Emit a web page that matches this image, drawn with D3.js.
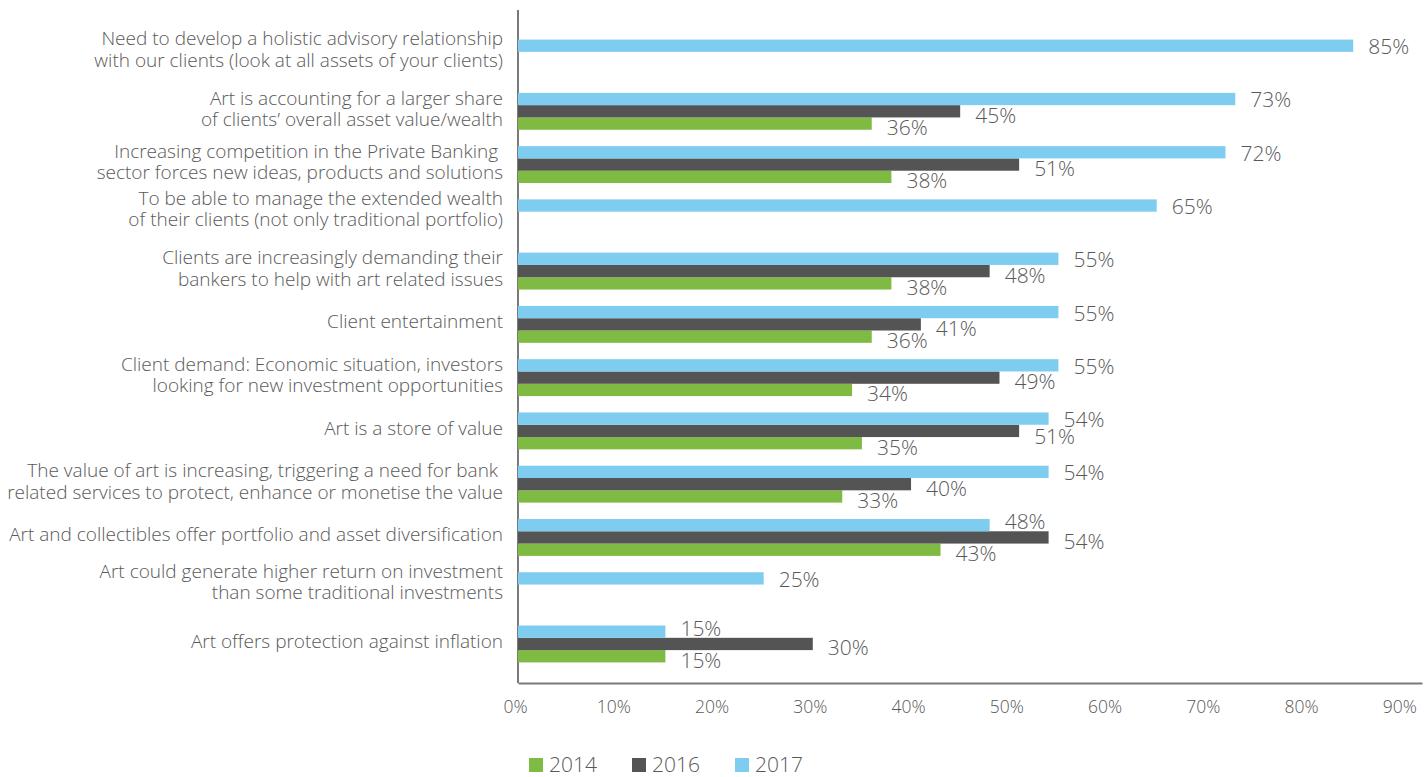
<!DOCTYPE html>
<html>
<head>
<meta charset="utf-8">
<script src="https://cdn.jsdelivr.net/npm/d3@7"></script>
<style>
  html, body { margin: 0; padding: 0; background: #ffffff; }
  svg { display: block; font-family: "Open Sans", "Noto Sans", sans-serif; font-weight: 300; }
</style>
</head>
<body>
<svg id="chart" width="1428" height="777"></svg>
<script>
// Reasons given for offering art-related services (share of respondents)
const categories = [
  "Need to develop a holistic advisory relationship\nwith our clients (look at all assets of your clients)",
  "Art is accounting for a larger share\nof clients\u2019 overall asset value/wealth",
  "Increasing competition in the Private Banking \nsector forces new ideas, products and solutions",
  "To be able to manage the extended wealth\nof their clients (not only traditional portfolio)",
  "Clients are increasingly demanding their\nbankers to help with art related issues",
  "Client entertainment",
  "Client demand: Economic situation, investors\nlooking for new investment opportunities",
  "Art is a store of value",
  "The value of art is increasing, triggering a need for bank \nrelated services to protect, enhance or monetise the value",
  "Art and collectibles offer portfolio and asset diversification",
  "Art could generate higher return on investment\nthan some traditional investments",
  "Art offers protection against inflation"
];

const years = ["2014", "2016", "2017"];
const values2014 = [null, 36, 38, null, 38, 36, 34, 35, 33, 43, null, 15];
const values2016 = [null, 45, 51, null, 48, 41, 49, 51, 40, 54, null, 30];
const values2017 = [85, 73, 72, 65, 55, 55, 55, 54, 54, 48, 25, 15];
const xTickValues = [0, 10, 20, 30, 40, 50, 60, 70, 80, 90];

const seriesColors = { "2014": "#7fba42", "2016": "#545454", "2017": "#7ecdf1" };
const seriesValues = { "2014": values2014, "2016": values2016, "2017": values2017 };
// vertical nudge of each series' value label relative to its bar centre
const labelNudge = { "2014": 4, "2016": 4, "2017": 1 };

const textColor = "#595959";
const axisColor = "#7a7a7a";

const svg = d3.select("#chart");

const x = d3.scaleLinear().domain([0, 92]).range([518, 1422]);
const y = d3.scaleBand().domain(d3.range(categories.length)).range([31.4, 670.6]).paddingInner(0).paddingOuter(0);
// within a group: 2017 on top, then 2016, then 2014
const ySub = d3.scaleBand().domain(["2017", "2016", "2014"]).range([0, y.bandwidth()]).paddingInner(0).paddingOuter(0.665);

// Build the flat list of bars
const bars = [];
categories.forEach((c, i) => {
  years.forEach(yr => {
    const v = seriesValues[yr][i];
    if (v !== null && v !== undefined) {
      bars.push({ cat: i, year: yr, value: v });
    }
  });
});

// Axis lines
svg.append("line")
  .attr("x1", x(0)).attr("x2", x(0))
  .attr("y1", 10).attr("y2", 683)
  .attr("stroke", axisColor).attr("stroke-width", 2);

const xAxis = d3.axisBottom(x)
  .tickValues(xTickValues)
  .tickSize(0)
  .tickPadding(0)
  .tickFormat(d => d + "%");

const gx = svg.append("g")
  .attr("transform", "translate(0,683)")
  .call(xAxis);
gx.select(".domain").attr("stroke", axisColor).attr("stroke-width", 2);
gx.selectAll(".tick text")
  .attr("y", 30)
  .attr("dy", 0)
  .attr("dx", -3)
  .attr("fill", textColor)
  .style("font-size", "17.5px")
  .style("font-family", "'Open Sans', 'Noto Sans', sans-serif")
  .style("font-weight", 300);

// Bars
svg.append("g").selectAll("rect")
  .data(bars)
  .join("rect")
  .attr("x", x(0))
  .attr("y", d => y(d.cat) + ySub(d.year))
  .attr("width", d => x(d.value) - x(0))
  .attr("height", ySub.bandwidth())
  .attr("fill", d => seriesColors[d.year]);

// Value labels: right of the bar end, nudged clear of neighbouring bars
// and of each other within the same group
const capHalf = 7.5;
const labelGap = 15;
const minLabelSpacing = 17;
const labels = svg.append("g").selectAll("text")
  .data(bars)
  .join("text")
  .attr("x", d => x(d.value) + labelGap)
  .attr("fill", textColor)
  .style("font-size", "21px")
  .text(d => d.value + "%");

labels.each(function(d) {
  d.x0 = x(d.value) + labelGap;
  d.x1 = d.x0 + this.getComputedTextLength();
  const ownCenter = y(d.cat) + ySub(d.year) + ySub.bandwidth() / 2;
  let cy = ownCenter + labelNudge[d.year];
  bars.filter(b => b.cat === d.cat && b !== d).forEach(b => {
    const bTop = y(b.cat) + ySub(b.year);
    const bBot = bTop + ySub.bandwidth();
    const bEnd = x(b.value);
    if (bEnd > d.x0 && cy + capHalf > bTop && cy - capHalf < bBot) {
      if (bTop > ownCenter) cy = bTop - capHalf - 2;
      else cy = bBot + capHalf + 2;
    }
  });
  d.cy = cy;
});

// keep labels that share horizontal space apart (top to bottom within each group)
d3.groups(bars, b => b.cat).forEach(([, group]) => {
  const sorted = group.slice().sort((a, b) => a.cy - b.cy);
  for (let k = 1; k < sorted.length; k++) {
    for (let j = 0; j < k; j++) {
      const a = sorted[j], b = sorted[k];
      const overlapX = a.x0 < b.x1 && b.x0 < a.x1;
      if (overlapX && b.cy - a.cy < minLabelSpacing) b.cy = a.cy + minLabelSpacing;
    }
  }
});
labels.attr("y", d => d.cy + capHalf);

// Category labels, right aligned next to the axis
const lineHeight = 21.5;
const catG = svg.append("g");
categories.forEach((c, i) => {
  const present = bars.filter(b => b.cat === i);
  const barMid = d3.mean(present, b => y(b.cat) + ySub(b.year) + ySub.bandwidth() / 2);
  const bandMid = y(i) + y.bandwidth() / 2;
  const cy = (barMid + bandMid) / 2;
  const lines = c.split("\n");
  const t = catG.append("text")
    .attr("text-anchor", "end")
    .attr("fill", textColor)
    .style("font-size", "19px")
    .style("white-space", "pre");
  lines.forEach((ln, k) => {
    t.append("tspan")
      .attr("x", 503)
      .attr("y", cy + (k - (lines.length - 1) / 2) * lineHeight + 4)
      .text(ln);
  });
});

// Legend
const legend = svg.append("g").attr("transform", "translate(529,758)");
const item = legend.selectAll("g")
  .data(years)
  .join("g")
  .attr("transform", (d, i) => `translate(${i * 103},0)`);
item.append("rect")
  .attr("width", 14).attr("height", 14)
  .attr("fill", d => seriesColors[d]);
item.append("text")
  .attr("x", 20).attr("y", 14)
  .attr("fill", textColor)
  .style("font-size", "21px")
  .text(d => d);
</script>
</body>
</html>
